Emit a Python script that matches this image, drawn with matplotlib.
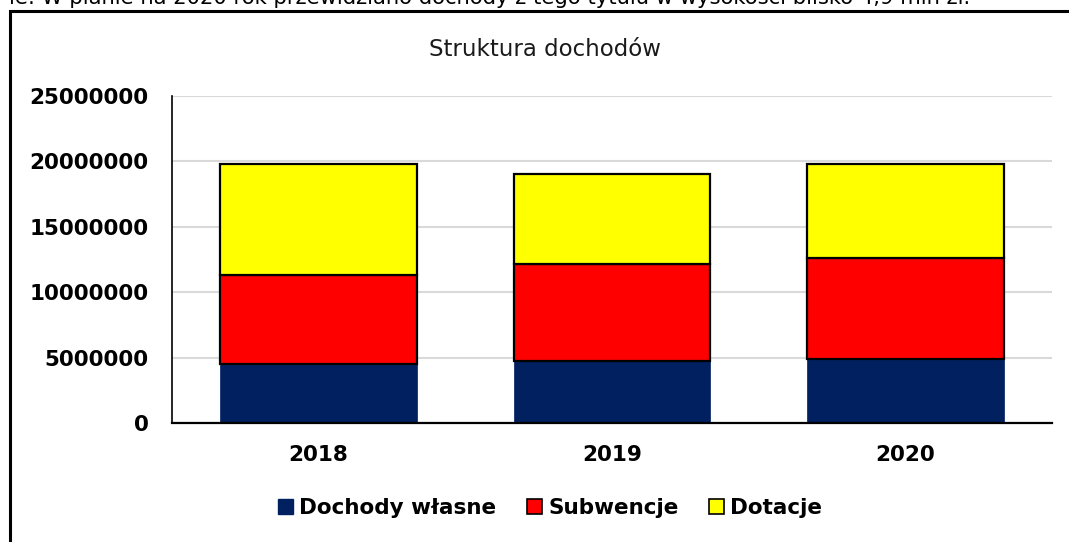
import matplotlib
matplotlib.use('Agg')
import matplotlib.pyplot as plt
from matplotlib.patches import Patch, Rectangle

years = ['2018', '2019', '2020']
own_income = [4530000, 4720000, 4890000]
subventions = [6810000, 7410000, 7750000]
grants = [8460000, 6910000, 7140000]
series_labels = ['Dochody własne', 'Subwencje', 'Dotacje']
title = 'Struktura dochodów'
top_line = 'ie: W planie na 2020 rok przewidziano dochody z tego tytułu w wysokości blisko 4,9 mln zł.'

navy = '#002060'
red = '#FF0000'
yellow = '#FFFF00'

W, H = 1069, 542
fig = plt.figure(figsize=(W / 100, H / 100), dpi=100)
ax = fig.add_axes([172 / W, 1 - 423 / H, (1052 - 172) / W, (423 - 95.7) / H])

x = range(len(years))
width = 0.67
bottom2 = [a + b for a, b in zip(own_income, subventions)]

ax.bar(x, own_income, width, color=navy, edgecolor=navy, linewidth=0.5, zorder=3)
ax.bar(x, subventions, width, bottom=own_income, color=red, edgecolor='black', linewidth=1.6, zorder=3)
ax.bar(x, grants, width, bottom=bottom2, color=yellow, edgecolor='black', linewidth=1.6, zorder=3)

ax.set_xlim(-0.5, len(years) - 0.5)
ax.set_ylim(0, 25000000)
ax.set_yticks(range(0, 25000001, 5000000))
ax.set_yticklabels([str(v) for v in range(0, 25000001, 5000000)])
ax.set_xticks(list(x))
ax.set_xticklabels(years)

for lbl in ax.get_yticklabels() + ax.get_xticklabels():
    lbl.set_fontweight('bold')
    lbl.set_fontsize(15.5)

ax.tick_params(axis='y', length=0, pad=17)
ax.tick_params(axis='x', length=0, pad=16)
ax.grid(axis='y', color='#d9d9d9', linewidth=1.5, zorder=0)
ax.set_axisbelow(True)

for side in ['top', 'right']:
    ax.spines[side].set_visible(False)
ax.spines['left'].set_linewidth(1.2)
ax.spines['bottom'].set_linewidth(1.6)
ax.spines['bottom'].set_zorder(4)

fig.text(545 / W, 1 - 55.7 / H, title, ha='center', va='baseline', fontsize=16.5, color='#1a1a1a')

handles = [Patch(facecolor=navy, edgecolor=navy),
           Patch(facecolor=red, edgecolor='black', linewidth=1.2),
           Patch(facecolor=yellow, edgecolor='black', linewidth=1.2)]
fig.legend(handles, series_labels, loc='center', bbox_to_anchor=(550 / W, 1 - 508 / H),
           ncol=3, frameon=False, prop={'weight': 'bold', 'size': 15.5},
           handlelength=0.7, handleheight=0.7, handletextpad=0.3, columnspacing=1.4)

# frame of the chart object, cut by the page edges
fig.add_artist(Rectangle((10 / W, -0.2), 1.2, 1.2 - 10.5 / H,
                         transform=fig.transFigure, fill=False, edgecolor='black', linewidth=2.2))

fig.text(970 / W, 1 - 4.5 / H, top_line, ha='right', va='baseline', fontsize=15.2)

fig.savefig('out.png', dpi=100)
